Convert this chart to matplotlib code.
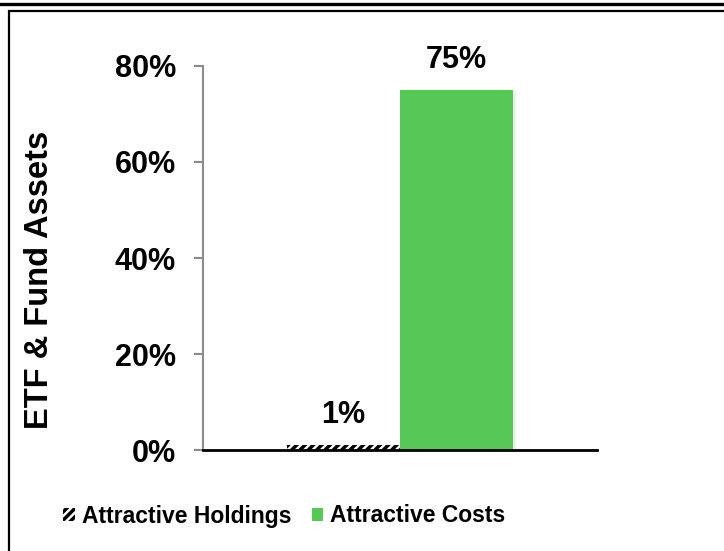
import matplotlib.pyplot as plt
from matplotlib import font_manager
from matplotlib.patches import Patch, Rectangle
from matplotlib.lines import Line2D
import matplotlib.patheffects as pe

series = ['Attractive Holdings', 'Attractive Costs']
values = [1, 75]
value_labels = ['1%', '75%']
y_ticks = [0, 20, 40, 60, 80]
y_tick_labels = ['0%', '20%', '40%', '60%', '80%']

green = '#56C856'

# letra estreita para a legenda, se existir
nomes = {f.name for f in font_manager.fontManager.ttflist}
narrow = 'Liberation Sans Narrow' if 'Liberation Sans Narrow' in nomes else None

plt.rcParams['font.family'] = ['Liberation Sans', 'DejaVu Sans']
plt.rcParams['hatch.linewidth'] = 2.5

fig = plt.figure(figsize=(7.24, 5.51), dpi=100)
ax = fig.add_axes([203 / 724, 101 / 551, 394 / 724, 384 / 551])

largura = 0.287
posicoes = [-largura / 2, largura / 2]

b1 = ax.bar(posicoes[0], values[0], width=largura, facecolor='white',
            edgecolor='black', hatch='////', linewidth=0)
b2 = ax.bar(posicoes[1], values[1], width=largura, color=green, linewidth=0)
b2[0].set_path_effects([pe.SimplePatchShadow(offset=(2, -1), alpha=0.08), pe.Normal()])

for x, v, txt in zip(posicoes, values, value_labels):
    ax.annotate(txt, (x, v), xytext=(0, 11), textcoords='offset points',
                ha='center', va='bottom', fontsize=22, fontweight='bold')

ax.set_xlim(-0.5, 0.5)
ax.set_ylim(0, 80)
ax.set_yticks(y_ticks)
ax.set_yticklabels(y_tick_labels, fontsize=22, fontweight='bold')
ax.set_xticks([])
ax.tick_params(axis='y', length=6.5, width=1.5, color='#8c8c8c', pad=13)

for lado in ['top', 'right']:
    ax.spines[lado].set_visible(False)
ax.spines['left'].set_color('#8c8c8c')
ax.spines['left'].set_linewidth(1.5)
ax.spines['bottom'].set_color('black')
ax.spines['bottom'].set_linewidth(2)
ax.spines['bottom'].set_zorder(5)

fig.text(40 / 724, 1 - 280 / 551, 'ETF & Fund Assets', rotation=90,
         ha='center', va='center', fontsize=23.5, fontweight='bold')

if narrow:
    prop_leg = {'family': narrow, 'weight': 'bold', 'size': 20}
else:
    prop_leg = {'weight': 'bold', 'size': 16.5}

handles = [Patch(facecolor='white', edgecolor='black', hatch='////', linewidth=0),
           Patch(facecolor=green, linewidth=0)]
fig.legend(handles, series, loc='center left', bbox_to_anchor=(54 / 724, 1 - 516 / 551),
           ncol=2, frameon=False, handlelength=0.5, handleheight=0.5,
           handletextpad=0.3, columnspacing=0.9, borderaxespad=0, prop=prop_leg)

# linha grossa em cima e moldura
fig.add_artist(Line2D([0, 1], [1 - 4 / 551, 1 - 4 / 551], color='black', linewidth=2.4))
fig.add_artist(Rectangle((9 / 724, -0.1), 1.2, 1.1 - 11.5 / 551, fill=False,
                         edgecolor='black', linewidth=1.6))

plt.savefig('out.png', dpi=100)
